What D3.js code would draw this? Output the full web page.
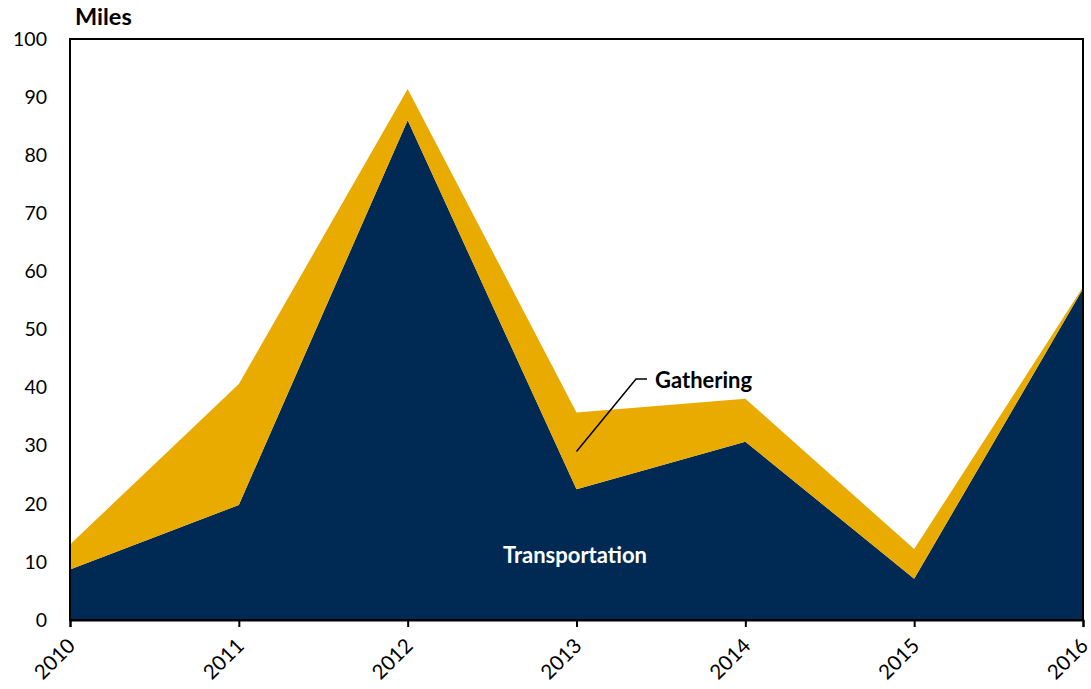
<!DOCTYPE html>
<html>
<head>
<meta charset="utf-8">
<script src="https://cdn.jsdelivr.net/npm/d3@7"></script>
<style>
  body { margin: 0; background: #fff; }
  svg { display: block; font-family: Lato, "Open Sans", sans-serif; }
</style>
</head>
<body>
<svg id="chart" width="1091" height="689"></svg>
<script>
// Pipeline miles added per year, by type
const years = [2010, 2011, 2012, 2013, 2014, 2015, 2016];
const transportation = [8.7, 19.8, 86.0, 22.5, 30.7, 7.1, 57.0];
const gathering = [4.3, 20.8, 5.4, 13.2, 7.4, 5.1, 0.3];
const yTicks = [0, 10, 20, 30, 40, 50, 60, 70, 80, 90, 100];

const colors = { transportation: "#002A54", gathering: "#E9AB00" };

const svg = d3.select("#chart");
const margin = { left: 70, right: 8, top: 39, bottom: 69 };
const W = 1091, H = 689;

const x = d3.scaleLinear()
  .domain([years[0], years[years.length - 1]])
  .range([margin.left, W - margin.right]);
const y = d3.scaleLinear().domain([0, 100]).range([H - margin.bottom, margin.top]);

const rows = years.map((yr, i) => ({ year: yr, transportation: transportation[i], gathering: gathering[i] }));
const series = d3.stack().keys(["transportation", "gathering"])(rows);

const area = d3.area()
  .x(d => x(d.data.year))
  .y0(d => y(d[0]))
  .y1(d => y(d[1]));

svg.append("g").selectAll("path")
  .data(series)
  .join("path")
  .attr("d", area)
  .attr("fill", d => colors[d.key]);

// Frame around the plot
svg.append("rect")
  .attr("x", margin.left).attr("y", margin.top)
  .attr("width", W - margin.right - margin.left)
  .attr("height", H - margin.bottom - margin.top)
  .attr("fill", "none").attr("stroke", "#000").attr("stroke-width", 2);

// Y axis labels
const yAxis = svg.append("g")
  .attr("transform", `translate(${margin.left},0)`)
  .call(d3.axisLeft(y).tickValues(yTicks).tickSize(0).tickPadding(23));
yAxis.select(".domain").remove();
yAxis.selectAll("text").attr("font-size", 19.5).attr("fill", "#000")
  .attr("font-family", "Lato, sans-serif");

// X axis with rotated year labels
const xAxis = svg.append("g")
  .attr("transform", `translate(0,${H - margin.bottom})`)
  .call(d3.axisBottom(x).tickValues(years).tickFormat(d3.format("d")).tickSize(7));
xAxis.select(".domain").attr("stroke", "#000").attr("stroke-width", 2);
xAxis.selectAll("line").attr("stroke", "#000").attr("stroke-width", 2);
xAxis.selectAll("text")
  .attr("font-size", 20.5).attr("fill", "#000")
  .attr("font-family", "Lato, sans-serif")
  .attr("text-anchor", "end")
  .attr("dy", null).attr("y", null)
  .attr("transform", "translate(6,27) rotate(-45)");

// Unit title
svg.append("text")
  .attr("x", 75).attr("y", 25)
  .attr("font-size", 23.5).attr("font-weight", "bold")
  .text("Miles");

// Series labels
svg.append("text")
  .attr("x", 575).attr("y", 563)
  .attr("text-anchor", "middle")
  .attr("font-size", 22).attr("font-weight", "bold")
  .attr("fill", "#fff")
  .text("Transportation");

svg.append("polyline")
  .attr("points", `${x(2013)},${y(29)} ${636},${379} ${647},${379}`)
  .attr("fill", "none").attr("stroke", "#000").attr("stroke-width", 1.5);

svg.append("text")
  .attr("x", 655).attr("y", 388)
  .attr("font-size", 22).attr("font-weight", "bold")
  .text("Gathering");
</script>
</body>
</html>
